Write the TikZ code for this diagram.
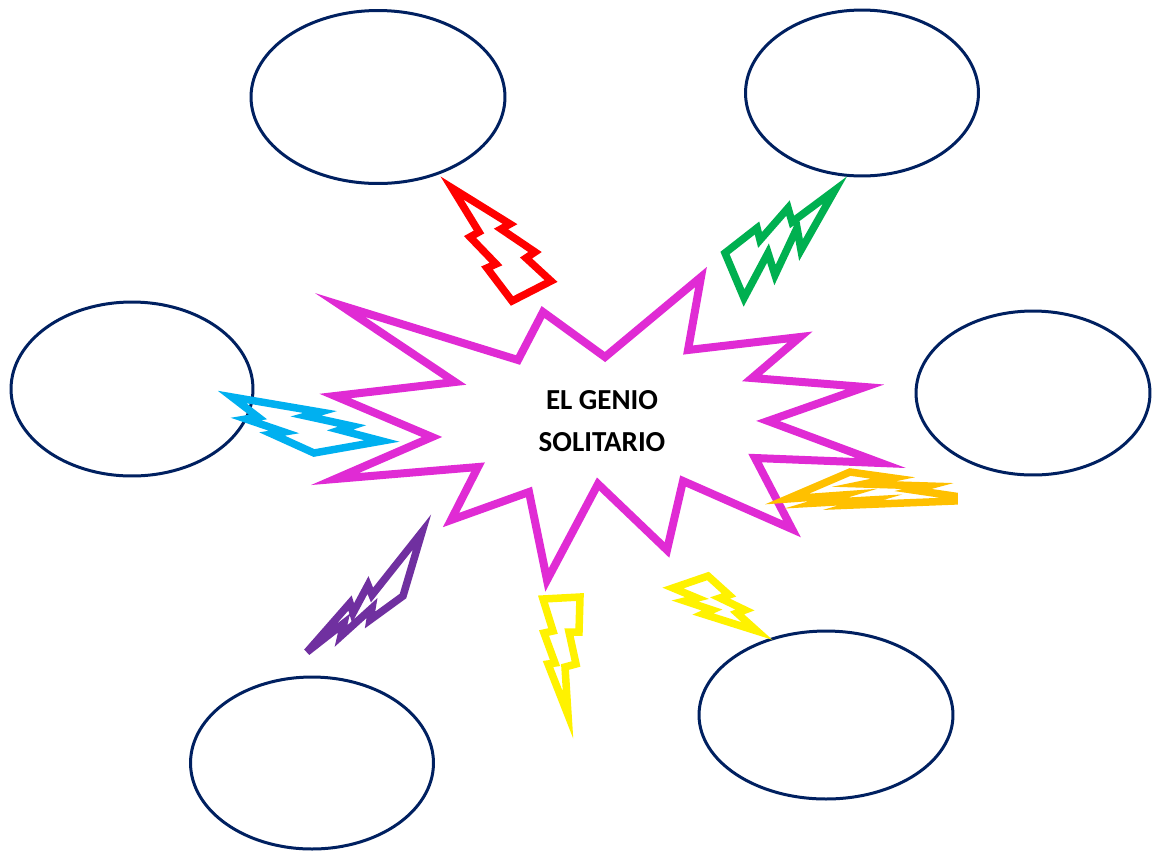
\documentclass[tikz,border=0pt]{standalone}
\usepackage{fontspec}
\setsansfont{Carlito}
\usetikzlibrary{shapes.geometric}
\definecolor{navy}{HTML}{002060}
\definecolor{estrella}{HTML}{E02BD4}
\definecolor{rayoverde}{HTML}{00B050}
\definecolor{rayocian}{HTML}{00B0F0}
\definecolor{rayonaranja}{HTML}{FFC000}
\definecolor{rayomorado}{HTML}{7030A0}

\begin{document}
\begin{tikzpicture}[x=0.02cm, y=-0.02cm, line join=miter,
  burbuja/.style={ellipse, draw=navy, line width=0.06cm, inner sep=0pt},
  rayo/.style={line width=0.15cm}]
  \useasboundingbox (0,0) rectangle (1158,853);

  % Burbujas
  \node[burbuja, minimum width=5.08cm, minimum height=3.46cm] (arribaizq) at (378,97) {};
  \node[burbuja, minimum width=4.66cm, minimum height=3.32cm] (arribader) at (862,93) {};
  \node[burbuja, minimum width=4.84cm, minimum height=3.48cm] (izq) at (132,389) {};
  \node[burbuja, minimum width=4.68cm, minimum height=3.28cm] (der) at (1033,393) {};
  \node[burbuja, minimum width=4.86cm, minimum height=3.44cm] (abajoizq) at (312,763) {};
  \node[burbuja, minimum width=5.08cm, minimum height=3.36cm] (abajoder) at (826,715) {};

  % Estrella
  \draw[estrella, line width=0.16cm] (340,305) -- (518,360) -- (543,312) -- (605,357)
    -- (701,277) -- (688,350) -- (800,337) -- (752,378) -- (865,387) -- (768,421)
    -- (881,463) -- (755,458) -- (792,529) -- (683,481) -- (667,550) -- (598,484)
    -- (547,580) -- (529,492) -- (451,520) -- (478,467) -- (335,479) -- (432,437)
    -- (335,396) -- (455,382) -- cycle;
  \node[font=\sffamily\bfseries\fontsize{16.5}{24}\selectfont, align=center] (titulo) at (602,421) {EL GENIO\\SOLITARIO};

  % Rayos
  \draw[red, rayo] (452,188) -- (510,224) -- (501,229) -- (535,252) -- (526,258)
    -- (551,281) -- (512,301) -- (487,268) -- (496,264) -- (470,237) -- (479,232) -- cycle;
  \draw[rayoverde, rayo] (835,190) -- (801,250) -- (797,228) -- (775,275) -- (768,253)
    -- (744,298) -- (725,253) -- (757,228) -- (760,240) -- (788,208) -- (792,222) -- cycle;
  \draw[rayocian, rayo] (232,397) -- (320,412) -- (306,416) -- (352,426) -- (340,430)
    -- (382,441) -- (314,453) -- (272,434) -- (284,432) -- (246,419) -- (258,417) -- cycle;
  \draw[rayonaranja, rayo] (787,499) -- (850,472) -- (893,478) -- (864,484) -- (928,486)
    -- (913,490) -- (954,496) -- (954,501) -- (853,505) -- (870,500) -- (816,503)
    -- (843,495) -- cycle;
  \draw[rayomorado, rayo] (422,532) -- (403,596) -- (370,620) -- (372,608) -- (341,636)
    -- (344,623) -- (307,652) -- (350,603) -- (353,613) -- (368,585) -- (372,595) -- cycle;
  \draw[yellow, rayo] (543,599) -- (580,597) -- (579,632) -- (569,632) -- (576,664)
    -- (565,667) -- (568,715) -- (548,664) -- (555,663) -- (544,633) -- (553,631) -- cycle;
  \draw[yellow, rayo] (673,588) -- (708,576) -- (729,595) -- (720,598) -- (745,610)
    -- (737,613) -- (757,631) -- (703,614) -- (712,610) -- (685,601) -- (697,598) -- cycle;
\end{tikzpicture}
\end{document}
